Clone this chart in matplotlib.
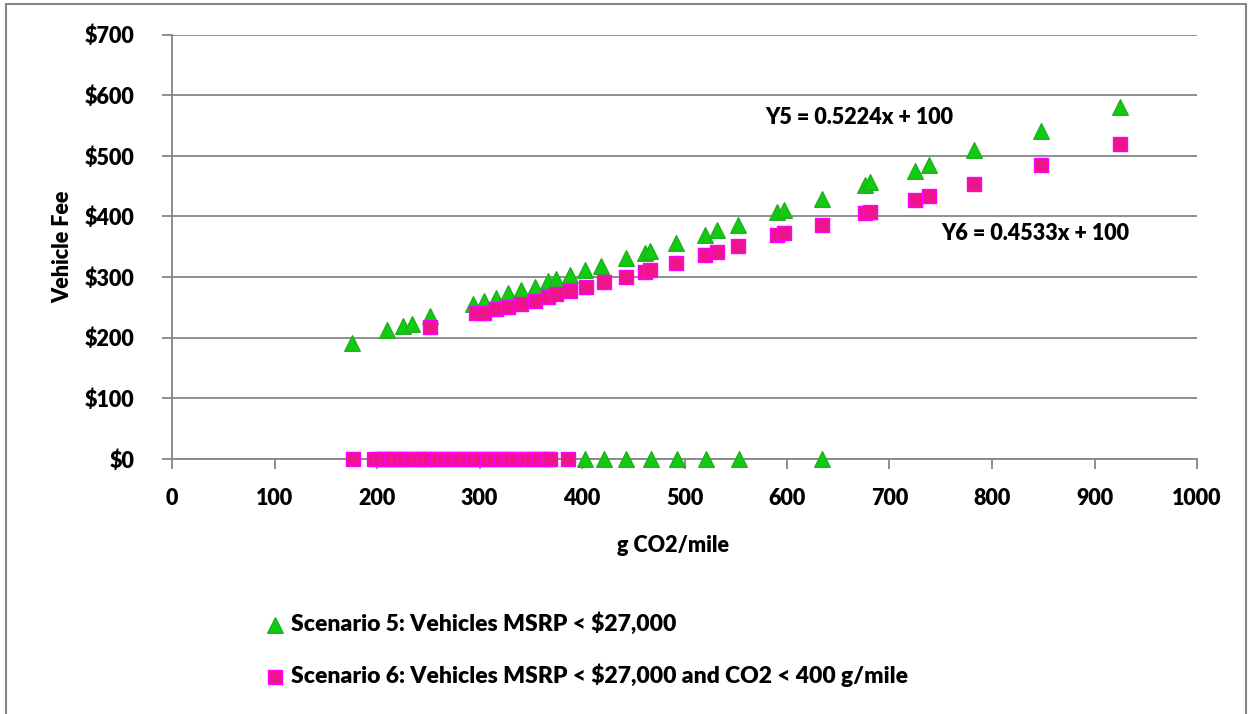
import numpy as np
import matplotlib.pyplot as plt
from matplotlib.patches import Rectangle

plt.rcParams['font.family'] = ['Lato', 'DejaVu Sans']
plt.rcParams['font.weight'] = 'heavy'
plt.rcParams['axes.labelweight'] = 'heavy'

# Scenario 5 (MSRP < $27,000): g CO2/mile and fee
s5_x = [176, 210, 225, 234, 252, 294, 304, 316, 328, 340, 354, 367, 375, 388,
        403, 419, 443, 461, 466, 492, 520, 532, 552, 590, 597, 634, 676, 681,
        725, 739, 782, 848, 925]
s5_fee = [191, 212, 220, 223, 235, 256, 261, 266, 273, 278, 284, 293, 297, 303,
          311, 319, 331, 340, 343, 356, 369, 378, 386, 408, 410, 428, 452, 456,
          475, 484, 509, 541, 581]
# vehicles with $0 fee in scenario 5
s5_zero_x = [403, 421, 443, 467, 493, 521, 553, 634]

# Scenario 6 (MSRP < $27,000 and CO2 < 400 g/mile)
s6_x = [252, 297, 304, 316, 328, 340, 354, 367, 375, 388, 404, 421, 443, 461,
        466, 492, 520, 532, 552, 590, 597, 634, 676, 681, 725, 739, 782, 848, 925]
s6_fee = [218, 240, 241, 247, 250, 256, 261, 267, 272, 277, 284, 292, 300, 309,
          311, 324, 336, 341, 352, 369, 372, 386, 406, 408, 427, 433, 453, 484, 519]
s6_zero_x = [177, 197, 203, 209, 214, 220, 226, 233, 240, 246, 252, 259, 265,
             272, 280, 287, 294, 300, 307, 314, 321, 329, 336, 344, 351, 358,
             366, 369, 386]

label5 = 'Scenario 5: Vehicles MSRP < $27,000'
label6 = 'Scenario 6: Vehicles MSRP < $27,000 and CO2 < 400 g/mile'
eq5 = 'Y5 = 0.5224x + 100'
eq6 = 'Y6 = 0.4533x + 100'

x_ticks = list(range(0, 1001, 100))
y_ticks = list(range(0, 701, 100))

grey = '#868686'
fs = 15.5

fig = plt.figure(figsize=(12.5, 7.14), dpi=100)
ax = fig.add_axes([172/1250, 1-459/714, 1025/1250, 424.5/714])

# green triangles first, pink squares drawn over them
ax.scatter(s5_x + s5_zero_x, s5_fee + [0]*len(s5_zero_x), marker='^', s=125,
           c='#10cc10', edgecolors='#1fae1f', linewidths=1, zorder=3,
           clip_on=False, label=label5)
ax.scatter(s6_x + s6_zero_x, s6_fee + [0]*len(s6_zero_x), marker='s', s=115,
           c='#ee148c', edgecolors='#ff00ff', linewidths=1, zorder=4,
           clip_on=False, label=label6)

ax.set_xlim(0, 1000)
ax.set_ylim(0, 700)
ax.set_xticks(x_ticks)
ax.set_xticklabels([str(v) for v in x_ticks])
ax.set_yticks(y_ticks)
ax.set_yticklabels(['$' + str(v) for v in y_ticks])

ax.yaxis.grid(True, color=grey, lw=1.3)
ax.set_axisbelow(True)
for side in ['top', 'right']:
    ax.spines[side].set_visible(False)
for side in ['left', 'bottom']:
    ax.spines[side].set_color(grey)
    ax.spines[side].set_linewidth(1.3)

ax.tick_params(direction='out', length=7, width=1.3, color=grey, labelsize=fs)
ax.tick_params(axis='y', pad=20)
ax.tick_params(axis='x', pad=14)

ax.set_xlabel('g CO2/mile', fontsize=fs, va='center')
ax.xaxis.set_label_coords((673-172)/1025, (459-545)/424.5)
ax.set_ylabel('Vehicle Fee', fontsize=fs, va='center')
ax.yaxis.set_label_coords((63-172)/1025, 0.5)

fig.text(765/1250, 1-118/714, eq5, fontsize=fs, va='center', ha='left')
fig.text(941/1250, 1-234/714, eq6, fontsize=fs, va='center', ha='left')

fig.legend(loc='upper left', bbox_to_anchor=(243/1250, 1-603/714), frameon=False,
           fontsize=16.5, labelspacing=1.25, handletextpad=-0.3, scatterpoints=1,
           borderaxespad=0)

fig.patches.append(Rectangle((6/1250, -0.01), 1240/1250, 1-3.5/714+0.01,
                             transform=fig.transFigure, fill=False,
                             ec=grey, lw=1.5))

fig.savefig('out.png', dpi=100)
